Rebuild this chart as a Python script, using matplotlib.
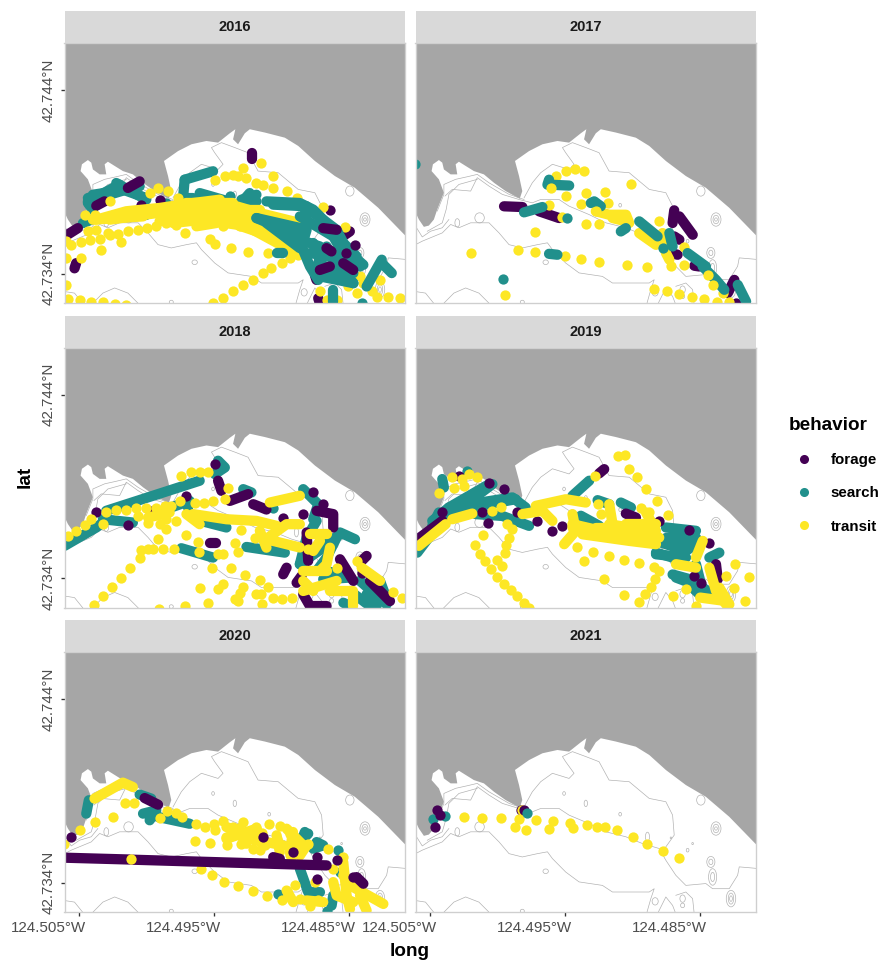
"""Behaviour points by year on a nearshore map, faceted like ggplot."""
import numpy as np
import matplotlib
matplotlib.use("Agg")
import matplotlib.pyplot as plt
from matplotlib.lines import Line2D
from matplotlib.patches import Ellipse, Polygon, Rectangle
from matplotlib.transforms import ScaledTranslation

plt.rcParams['font.family'] = ['Liberation Sans', 'DejaVu Sans']

# All coordinates below are in thousandths of a degree, east of 124.505W and
# north of 42.734N.  A "band" is a run of fixes so dense that the dots merge.
LON_REF = -124.505
LAT_REF = 42.734

YEARS = [2016, 2017, 2018, 2019, 2020, 2021]
LON_TICKS = [-124.505, -124.495, -124.485]
LAT_TICKS = [42.734, 42.744]
BEHAVIORS = ['forage', 'search', 'transit']
COLORS = {'forage': '#440154', 'search': '#21908C', 'transit': '#FDE725'}

# --- shared map ---
COAST = [(-1.2, 3.59), (-0.79, 2.95), (-0.42, 2.55), (-0.05, 2.62), (0.32, 2.95), (0.57, 3.5),
         (1.06, 4.41), (0.69, 5.14), (0.15, 5.59), (0.25, 5.96), (0.69, 6.19), (0.94, 6.05),
         (1.06, 5.68), (1.56, 5.41), (2.05, 5.41), (1.93, 5.96), (2.17, 6.1), (2.67, 5.87),
         (3.28, 5.59), (4.02, 5.41), (4.77, 4.95), (5.63, 4.5), (6.67, 4.08), (6.86, 4.5),
         (6.62, 5.32), (6.32, 6.14), (7.36, 6.68), (8.35, 7.05), (9.46, 7.23), (10.32, 7.14),
         (11.19, 7.65), (11.6, 7.87), (11.43, 7.32), (11.8, 7.05), (12.3, 7.65), (12.67, 7.87),
         (13.78, 7.69), (15.26, 7.41), (16.25, 6.96), (17.48, 6.14), (18.96, 5.32), (20.44, 4.68),
         (22.17, 3.59), (24.4, 1.9), (24.4, -1.9), (-1.2, -1.9)]
CONTOURS = [
    [(-1.04, 1.58), (-0.54, 1.77), (0.94, 2.22), (1.56, 2.68), (2.17, 2.5), (3.04, 2.77), (4.4, 2.77),
     (5.14, 2.22), (5.88, 1.58), (6.86, 1.4), (7.98, 1.58), (8.72, 1.68), (9.09, 1.31), (10.07, 0.58),
     (11.06, 0.04), (12.79, -0.15), (13.53, -0.51), (16.25, -0.51), (16.62, -0.33), (16.37, -0.87),
     (16.05, -1.7)],
    [(1.14, 4.23), (1.68, 4.59), (3.04, 4.5), (3.53, 5.23), (4.4, 4.77), (5.38, 4.32), (6.62, 4.04),
     (7.6, 3.86), (8.22, 4.04), (9.58, 4.04), (10.32, 3.68), (11.8, 3.22), (13.04, 2.77), (14.52, 2.5),
     (15.75, 2.13), (16.99, 1.86), (17.48, 1.22), (18.22, 0.4), (18.96, -0.15), (20.44, -0.05),
     (20.94, -0.33), (22.17, -0.33), (22.79, 0.4), (22.91, 0.86), (24.3, 0.77)],
    [(6.99, 4.13), (7.6, 4.95), (8.22, 5.5), (9.09, 5.96), (10.32, 5.68), (10.69, 5.96), (10.07, 6.59),
     (9.83, 6.87), (10.57, 7.14), (11.56, 6.87), (12.54, 6.59), (13.28, 5.59), (14.77, 5.5), (16.25, 4.59),
     (17.48, 4.41), (17.98, 3.68), (18.1, 2.59), (17.48, 1.95), (17.23, 1.58)],
    [(0.57, 3.41), (1.06, 4.32), (1.06, 4.86), (1.93, 5.14), (2.79, 5.28), (3.53, 5.41), (4.4, 4.95),
     (5.88, 4.32), (6.99, 4.04)],
    [(-0.17, 2.31), (0.94, 2.77), (1.23, 3.5), (1.43, 4.32), (2.17, 4.86), (3.53, 5.14)],
    [(-1.04, 2.59), (-0.54, 2.0), (0.07, 2.31), (0.94, 2.5), (1.43, 2.95)],
    [(-1.09, -0.97), (-0.3, -1.06), (0.4, -1.7)],
    [(0.94, -1.7), (1.8, -1.06), (2.67, -0.78), (3.65, -1.06), (4.52, -1.7)],
    [(16.86, -1.7), (17.48, -0.78), (17.98, -1.24), (18.22, -1.7)],
    [(18.22, -0.69), (18.96, -0.51), (19.46, -0.87), (19.58, -1.7)],
]
# seamount rings: centre x, centre y, width, height
RINGS = [(21.19, 2.95, 0.74, 0.73), (21.19, 2.95, 0.44, 0.46), (21.19, 2.95, 0.2, 0.18),
         (20.07, 4.5, 0.62, 0.55), (9.95, 4.86, 0.2, 0.2), (11.56, 4.32, 0.25, 0.35),
         (14.1, 3.73, 0.2, 0.2), (3.7, 3.04, 0.7, 0.55), (2.05, 2.77, 0.35, 0.45),
         (8.59, 0.62, 0.4, 0.25), (6.86, -1.55, 0.3, 0.2), (20.81, 1.13, 0.6, 0.6),
         (20.81, 1.13, 0.3, 0.3), (20.94, 0.31, 0.6, 0.9), (20.94, 0.31, 0.3, 0.5),
         (16.69, -1.02, 0.45, 0.4), (18.72, -0.87, 0.4, 0.4), (18.72, -1.24, 0.3, 0.25),
         (22.3, -0.87, 0.7, 0.9), (22.3, -0.87, 0.4, 0.6), (22.3, -0.87, 0.2, 0.3),
         (19.46, 2.13, 0.12, 0.12), (19.09, 1.77, 0.2, 0.2), (17.85, 2.44, 0.1, 0.1),
         (16.12, 2.5, 0.3, 0.5)]

# --- 2016 ---
S16_LOW_BANDS = [
    [(0.69, 4.12), (2.54, 4.48), (4.52, 4.76)], [(0.69, 3.94), (3.03, 4.85)], [(2.79, 4.94), (5.01, 4.03)],
    [(1.06, 3.48), (0.69, 3.85)], [(4.52, 3.21), (5.01, 3.21)], [(0.32, 2.75), (0.94, 2.94)],
    [(1.06, 4.3), (4.27, 4.67)], [(3.28, 4.58), (5.01, 4.12)], [(1.06, 4.03), (3.53, 4.58)],
    [(7.85, 5.12), (7.73, 4.12), (8.47, 4.12)], [(7.85, 5.12), (9.95, 5.58)], [(8.96, 4.39), (10.94, 3.97)],
    [(11.92, 3.76), (12.66, 4.39)], [(12.05, 4.03), (13.16, 4.3)], [(11.68, 3.76), (13.16, 3.94)]]
S16_LOW_PTS = [(6.49, 3.85), (11.18, 4.21)]
F16_BANDS = [
    [(-1.04, 2.02), (-0.05, 2.48)], [(-0.3, 0.29), (-0.18, 0.57)], [(12.86, 6.25), (12.86, 6.58)],
    [(17.6, -0.34), (17.48, -0.07)], [(17.73, -1.34), (17.85, -1.62)], [(20.07, 2.3), (19.33, 1.93)],
    [(4.52, 5.03), (3.65, 4.67)], [(1.92, 3.94), (1.31, 3.7)]]
F16_PTS = [(18.59, 3.48), (4.64, 3.76), (5.99, 4.03), (7.11, 3.25)]
T16_BANDS = [
    [(1.31, 2.94), (3.53, 3.4), (5.99, 3.58), (8.47, 3.85), (10.45, 4.03)],
    [(5.99, 2.85), (8.47, 3.3), (10.94, 3.58), (13.41, 2.76), (15.88, 1.48)],
    [(6.99, 2.76), (9.21, 2.94), (11.68, 2.67), (13.9, 2.12), (16.13, 1.12)],
    [(11.68, 3.67), (13.41, 3.3), (16.37, 2.76)], [(8.47, 3.58), (8.96, 2.94)],
    [(6.99, 3.49), (13.41, 3.49)], [(7.48, 2.94), (12.42, 2.94)], [(7.98, 3.85), (11.43, 3.85)],
    [(8.72, 2.58), (10.2, 2.76)], [(12.42, 2.58), (15.63, 1.3)], [(13.9, 2.58), (16.37, 1.3)],
    [(1.06, 2.94), (4.77, 3.12)], [(2.3, 2.94), (6.74, 3.4)]]
T16_PTS = [(-0.92, 1.76), (-0.55, 1.58), (0.2, 1.7), (0.81, 1.81), (1.55, 1.88), (2.3, 2.12), (3.16, 1.7),
           (1.68, 1.27), (0.2, 0.85), (-0.92, 0.85), (-0.92, -0.61), (-0.79, -1.39), (0.07, -1.46), (0.94, -1.52),
           (1.8, -1.57), (2.67, -1.65), (3.53, -1.7), (0.44, 3.21), (1.18, 3.21), (0.69, 2.3), (1.31, 2.39),
           (2.17, 2.21), (2.91, 2.18), (3.65, 2.3), (4.39, 2.39), (5.06, 2.49), (5.75, 2.61), (6.49, 2.76),
           (7.23, 2.67), (7.85, 2.21), (2.3, 3.94), (5.26, 4.4), (5.88, 4.67), (6.62, 4.49), (7.36, 4.12),
           (10.08, 5.12), (10.82, 5.31), (11.43, 5.4), (12.18, 5.76), (11.8, 5.31), (12.42, 5.22), (13.16, 4.94),
           (13.53, 6.03), (14.4, 5.31), (13.66, 4.85), (14.4, 4.67), (15.39, 4.49), (16.13, 4.12), (18.1, 3.63),
           (9.71, 1.88), (10.08, 1.63), (11.31, 1.39), (12.55, 1.16), (14.03, 1.12), (10.69, 2.58), (11.93, 2.58),
           (12.79, 2.58), (9.95, -1.61), (10.69, -1.34), (11.43, -0.97), (12.18, -0.61), (12.92, -0.34),
           (13.66, 0.03), (14.27, 0.3), (15.02, 0.57), (15.63, 0.85), (16.25, 1.03), (19.71, 2.54), (18.97, 1.3),
           (22.3, -0.34), (20.82, -0.15), (21.68, -0.97), (22.05, -1.25), (23.78, -1.34), (22.92, -1.25),
           (17.86, -0.92), (18.35, -1.43), (19.96, -0.7), (20.57, -1.06), (21.07, -0.52), (19.09, -1.43)]
S16_TOP_BANDS = [
    [(13.16, 3.03), (16.37, 2.03)], [(13.16, 3.03), (16.37, 2.49)], [(14.65, 2.58), (16.62, 1.67)],
    [(13.9, 2.76), (16.37, 1.39)], [(15.39, 2.12), (16.62, 1.3)],
    [(13.9, 3.94), (16.37, 3.85), (17.36, 3.49), (18.1, 2.94), (19.09, 2.39), (19.59, 1.67)],
    [(14.4, 3.76), (16.87, 3.67)], [(16.62, 3.67), (18.1, 2.94), (19.83, 1.12)],
    [(16.37, 3.12), (18.84, 2.03), (19.83, 0.76)], [(16.37, 1.85), (17.86, 1.48), (17.86, 0.76)],
    [(17.12, 1.12), (20.08, 0.76), (20.82, 0.39)], [(17.36, 0.39), (20.33, 0.03)], [(17.86, -0.15), (20.33, -0.52)],
    [(19.59, 1.67), (20.57, 0.94)],
    [(16.74, 3.67), (16.87, 2.39), (16.5, 1.48), (17.12, 0.39), (17.73, -0.34)],
    [(17.36, 1.67), (18.1, 0.39), (19.34, 0.39), (20.33, -0.52)], [(18.6, 2.39), (20.08, 1.12), (21.07, 0.48)],
    [(18.35, 1.48), (19.09, 0.39), (19.83, -0.15)], [(21.31, -0.7), (22.43, 0.76)], [(22.43, 0.57), (23.17, 0.03)],
    [(18.84, -0.88), (18.84, -1.52)], [(14.65, 1.12), (15.14, 1.12)], [(17.86, 1.12), (17.61, -0.15)]]
S16_TOP_PTS = [(20.94, -1.61)]
F16_TOP_BANDS = [[(18.34, 1.39), (18.71, 1.21)], [(19.58, 0.57), (20.32, 0.2)], [(17.85, 0.2), (18.59, 0.39)],
                 [(18.1, 2.48), (19.09, 2.39)]]
F16_TOP_PTS = [(19.82, 1.11), (20.44, 1.57)]

# --- 2017 ---
F17_BANDS = [
    [(5.51, 3.67), (6.87, 3.63)], [(8.1, 3.4), (9.58, 3.03)], [(18.48, 3.12), (19.47, 2.12)],
    [(18.1, 3.45), (17.98, 2.76)], [(18.1, 2.03), (18.48, 1.85)], [(17.86, 1.12), (18.35, 1.03)],
    [(19.59, 0.43), (19.96, 0.39)], [(22.55, -0.34), (22.06, -1.06)]]
F17_PTS = [(22.68, -1.61)]
T17_BANDS = [
    [(12.3, 3.4), (13.29, 3.21), (14.53, 3.21), (14.77, 2.76)], [(13.54, 3.03), (14.53, 2.85)],
    [(15.51, 2.21), (16.75, 1.57)], [(17.24, 2.21), (17.49, 1.12), (17.74, 0.76)]]
T17_PTS = [(9.39, 5.31), (10.08, 5.62), (10.75, 5.72), (11.39, 5.58), (14.9, 4.89), (11.56, 4.4), (12.97, 4.45),
           (10.13, 4.21), (11.19, 3.8), (13.22, 3.85), (8.84, 3.76), (9.83, 3.09), (11.56, 2.7), (12.55, 2.72),
           (7.78, 2.25), (3.09, 1.1), (6.52, 1.3), (7.78, 1.17), (10.03, 0.94), (11.22, 0.79), (12.55, 0.63),
           (14.57, 0.45), (16.06, 0.36), (5.58, -1.15), (16.62, -0.83), (17.54, -0.97), (18.48, -1.1), (19.42, -1.25),
           (20.33, -1.37), (21.24, -1.52), (22.18, -1.52), (18.85, 0.48), (18.85, 1.45), (17.86, 0.39), (21.69, -1.06),
           (16.95, 2.85)]
S17_BANDS = [
    [(6.99, 3.34), (8.35, 3.63)], [(8.84, 4.85), (10.33, 4.8)], [(8.84, 5.12), (8.72, 4.85)], [(8.84, 1.08), (9.46, 1.03)],
    [(11.93, 3.85), (12.18, 3.94), (12.67, 3.67)], [(14.15, 2.3), (14.52, 2.48)], [(15.51, 2.85), (16.87, 2.03)],
    [(17.74, 2.21), (17.98, 1.48)], [(19.09, 1.12), (20.45, 0.39)], [(20.2, 0.39), (21.19, -0.34), (21.81, -0.88)],
    [(22.8, -0.61), (23.42, -1.52)]]
S17_PTS = [(10.2, 3.03), (-1.09, 6.0), (5.46, -0.28), (17.24, 1.39)]
T17_TOP_PTS = [(8.97, 4.67), (12.3, 3.4), (20.58, -0.06), (20.95, -0.61)]

# --- 2018 ---
S18_BANDS = [
    [(-1.04, 1.76), (1.31, 2.76), (1.8, 3.03)], [(1.8, 3.21), (4.02, 3.03)], [(2.05, 3.67), (8.96, 5.31)],
    [(6.49, 3.76), (8.22, 4.21), (8.1, 3.85)], [(10.08, 5.67), (10.82, 6.03), (10.32, 6.4)],
    [(8.84, 3.16), (10.94, 2.76)], [(7.6, 1.63), (9.95, 1.12)], [(12.42, 1.7), (15.26, 1.39)],
    [(12.18, 4.85), (12.79, 4.67)], [(16.62, 4.85), (17.73, 4.03), (17.36, 3.21)],
    [(17.61, 3.12), (16.87, 2.21), (16.37, 0.76)], [(19.34, 2.49), (20.45, 2.12)],
    [(19.09, 2.21), (18.35, 1.12), (17.61, 0.39)], [(18.1, -0.06), (20.08, 0.03)],
    [(20.82, -0.15), (22.79, -1.43)], [(21.31, -0.88), (22.05, -1.52)], [(22.3, -0.15), (22.67, -0.88)],
    [(19.59, -1.34), (20.08, -1.52)], [(16.37, 0.76), (18.1, 1.66)], [(18.1, 0.39), (19.83, 0.2)],
    [(17.86, 1.66), (19.34, 2.39)], [(20.08, -0.7), (21.56, -1.52)]]
S18_PTS = [(14.4, 3.85)]
F18_BANDS = [
    [(10.32, 5.31), (10.57, 4.76)], [(11.19, 4.21), (12.55, 4.58)], [(12.92, 4.03), (13.9, 3.74)],
    [(9.71, 1.94), (10.2, 1.94)], [(15.14, 0.21), (15.39, 0.57)], [(16.13, -0.25), (16.5, 0.12)],
    [(17.61, 3.67), (18.84, 3.49), (18.84, 2.76)], [(16.87, 2.49), (16.99, 0.94)], [(21.31, 1.21), (20.82, 0.85)],
    [(19.34, 1.03), (20.33, -0.15)], [(21.56, -0.15), (23.04, -1.25)], [(16.62, -0.88), (17.12, -1.52), (18.35, -1.52)]]
F18_PTS = [(1.31, 3.58), (10.08, 6.22), (7.98, 4.49), (3.65, 2.89), (5.26, 3.67), (15.14, 3.3), (17.36, 4.67),
           (18.1, 4.03), (16.62, 3.49), (20.94, 0.3)]
T18_BANDS = [
    [(8.47, 3.49), (10.94, 3.21), (13.16, 3.12), (14.65, 2.85)], [(14.15, 4.12), (16.37, 4.49)],
    [(14.03, 2.21), (15.39, 2.94), (16.37, 2.94)], [(14.4, 2.03), (16.37, 1.67)], [(17.11, 2.39), (18.35, 2.39)],
    [(17.86, 2.03), (17.36, 1.48)], [(16.62, 0.39), (18.35, 0.39)], [(16.62, -0.7), (19.09, -0.15)],
    [(18.6, -0.7), (20.33, -0.7), (20.33, -1.52)], [(20.94, 0.57), (22.3, -0.15)],
    [(13.41, 2.58), (13.9, 1.66)], [(18.6, 1.66), (18.35, 0.76), (17.86, 0.39)], [(16.62, -0.15), (17.36, -0.7)],
    [(5.14, 3.3), (6.74, 3.58)], [(7.98, 3.49), (8.96, 2.94)]]
T18_PTS = [(7.61, 5.58), (8.35, 5.76), (8.96, 5.76), (9.58, 5.76), (11.06, 4.94), (10.82, 4.3), (9.95, 4.18), (9.26, 4.12),
           (8.59, 4.09), (7.48, 4.18), (6.86, 3.94), (6.37, 3.94), (5.75, 3.85), (4.96, 3.85), (4.22, 3.8), (3.53, 3.74),
           (2.79, 3.7), (2.05, 3.63), (0.89, 3.21), (0.44, 2.89), (-0.17, 2.58), (-0.79, 2.3), (1.8, 2.94), (4.39, 3.4),
           (5.14, 3.03), (6.0, 3.49), (6.49, 3.21), (6.0, 2.94), (6.49, 2.67), (7.23, 3.12), (7.98, 2.34), (5.88, 2.12),
           (8.84, 1.99), (11.56, 1.94), (12.05, 2.61), (13.04, 2.21), (8.91, 1.45), (7.04, 1.58), (6.25, 1.58), (5.51, 1.58),
           (5.14, 1.61), (4.64, 1.52), (4.52, 1.08), (3.83, 0.54), (3.16, 0.03), (2.47, -0.46), (1.8, -0.97), (1.13, -1.46),
           (10.69, 1.34), (10.32, 1.3), (11.8, 1.45), (9.9, 0.54), (11.26, 0.57), (12.3, 0.17), (13.41, -0.1), (8.96, -0.52),
           (10.32, -0.61), (10.69, -0.34), (12.18, -0.46), (11.56, -1.16), (11.93, -0.79), (13.16, -0.88), (13.53, -0.88),
           (14.03, -0.48), (14.4, -1.06), (15.02, -1.16), (15.76, -1.06), (13.58, -1.39), (11.8, -1.25), (7.85, -1.52),
           (9.58, -1.34), (5.95, -1.7), (23.91, -1.06), (23.29, -0.74), (20.57, 0.94), (16.99, 1.57), (19.09, 0.57)]

# --- 2019 ---
S19_BANDS = [
    [(-0.91, 1.39), (0.69, 2.94), (4.65, 5.12)], [(0.2, 3.12), (1.43, 3.85), (4.4, 5.12)],
    [(1.43, 3.85), (6.13, 4.4), (7.11, 3.85)], [(1.68, 3.67), (6.37, 4.3)], [(3.41, 3.49), (5.39, 3.39), (7.36, 2.85)],
    [(0.94, 5.4), (1.06, 4.94)], [(10.57, 4.49), (11.81, 5.31)], [(11.19, 3.4), (12.55, 2.85)],
    [(12.43, 4.25), (13.29, 4.03)], [(14.15, 4.12), (14.9, 3.85)], [(17.49, 2.76), (19.71, 2.58)],
    [(16.75, 2.03), (18.23, 1.67), (19.71, 2.21)], [(16.75, 1.3), (18.97, 1.12)],
    [(18.23, 0.03), (20.21, -0.52), (20.95, -0.88)], [(19.71, 0.76), (20.21, -0.7)], [(0.69, 3.58), (0.2, 2.85)],
    [(17.98, 0.2), (19.71, -0.15)], [(16.75, 1.39), (17.98, 1.12)], [(18.23, 1.12), (19.71, 1.85)],
    [(17.49, 2.21), (18.97, 2.21)], [(21.44, 1.39), (20.7, 1.12)], [(19.46, -0.52), (19.96, -0.88)]]
S19_PTS = [(2.79, 5.85)]
F19_BANDS = [
    [(-1.04, 2.03), (0.94, 3.12)], [(12.92, 5.94), (12.55, 5.71)], [(14.52, 3.52), (15.27, 3.3)],
    [(21.19, 0.76), (21.32, -0.06)]]
F19_PTS = [(0.94, 3.63), (4.35, 3.0), (3.9, 3.63), (9.04, 2.58), (9.83, 2.85), (7.98, 3.12), (6.5, 3.58), (16.99, 3.12),
           (19.22, 2.61), (20.7, 1.94), (19.59, 0.12), (4.4, 5.21), (5.51, 4.85), (2.17, 5.58)]
T19_BANDS = [
    [(-0.79, 1.76), (1.19, 2.94)], [(1.68, 3.21), (3.16, 3.52)], [(7.86, 3.94), (10.08, 4.3), (11.56, 4.12)],
    [(6.87, 3.49), (8.35, 3.67), (9.09, 3.12)], [(10.57, 2.94), (13.78, 2.39), (16.99, 2.21)],
    [(10.57, 3.49), (10.82, 2.58), (9.96, 1.85)], [(13.29, 4.03), (13.54, 2.94)],
    [(11.31, 2.39), (14.77, 2.03), (16.75, 1.85)], [(13.29, 2.94), (16.25, 2.58)], [(16.01, 3.58), (16.75, 2.58)],
    [(20.21, 2.03), (19.71, 1.12)], [(18.23, 0.76), (19.71, 0.57)], [(20.7, 0.57), (21.19, -0.7), (21.94, -1.43)],
    [(20.02, -1.06), (21.94, -1.25)], [(10.57, 2.76), (16.75, 2.21)], [(12.3, 2.76), (15.76, 2.76)],
    [(14.52, 2.94), (16.75, 2.94)], [(21.44, -0.52), (22.18, -1.43)]]
T19_PTS = [(13.91, 6.67), (14.48, 6.73), (14.77, 5.94), (15.32, 5.49), (16.01, 4.85), (16.82, 4.18), (17.61, 3.45),
           (12.23, 5.58), (1.68, 5.49), (2.42, 5.4), (2.92, 5.67), (3.53, 5.49), (1.8, 4.94), (2.55, 5.03), (0.69, 4.63),
           (4.65, 3.67), (5.31, 3.9), (3.34, 1.79), (3.95, 2.36), (3.71, 1.34), (4.1, 0.94), (4.52, 0.52), (4.97, 0.06),
           (5.48, -0.3), (6.0, -0.65), (6.5, -1.0), (6.99, -1.34), (7.36, -1.65), (4.97, 0.99), (5.39, 0.67), (5.58, 1.39),
           (5.68, 1.81), (5.88, 2.18), (5.76, 2.94), (6.13, 2.67), (10.94, 1.72), (12.06, 1.45), (11.44, 0.94), (13.29, 1.21),
           (14.4, 0.99), (15.51, 0.85), (16.62, 0.61), (16.99, 0.39), (16.7, -0.06), (16.38, -0.48), (15.96, -0.88),
           (15.46, -1.28), (14.4, -0.94), (12.94, -0.03), (12.67, 3.49), (12.43, 4.03), (16.25, 3.58), (15.64, 3.85),
           (17.98, -0.97), (22.6, 0.79), (23.61, 0.08), (22.55, -0.52), (18.97, -0.61), (23.37, -1.25), (21.94, 0.12),
           (19.71, -1.52)]
F19_TOP_PTS = [(20.08, -0.25)]

# --- 2020 ---
S20_BANDS = [
    [(0.76, 4.49), (0.57, 3.76)], [(4.52, 4.8), (5.38, 4.58)], [(4.77, 3.76), (5.75, 3.94), (5.26, 3.4)],
    [(5.88, 3.58), (8.22, 3.21)], [(16.74, 2.76), (16.37, 2.03)], [(16.37, 0.76), (16.99, -0.52), (17.86, -0.52)],
    [(17.61, 2.21), (18.1, 2.03), (17.36, 1.85)], [(18.84, -0.7), (18.72, -1.25)], [(16.37, 2.21), (16.99, 2.67)]]
S20_PTS = [(19.22, 1.76), (19.34, 0.57), (14.77, -0.61), (18.35, -1.52)]
T20_BANDS = [
    [(1.18, 4.58), (3.28, 5.45), (4.02, 5.21)], [(10.94, 3.03), (13.16, 2.48)], [(11.93, 2.67), (12.42, 2.12)],
    [(15.39, 2.94), (16.62, 2.03), (15.88, 1.48)], [(18.84, 0.03), (19.09, -0.7), (20.33, -1.06)],
    [(19.58, 1.12), (19.83, -0.7), (20.08, -1.43)], [(20.33, -0.25), (22.55, -1.16)], [(20.82, -0.7), (21.31, -1.52)],
    [(10.94, 2.39), (13.16, 2.94)], [(13.16, 2.94), (13.41, 2.21)], [(13.9, 2.21), (15.14, 2.03)],
    [(14.65, 2.58), (14.89, 1.66)], [(15.86, 2.76), (15.63, 1.66)], [(16.87, 2.03), (16.37, 1.48)],
    [(15.39, -0.43), (15.88, -1.06)], [(16.87, -0.97), (18.1, -1.06)], [(19.58, 0.39), (20.33, -0.15)]]
T20_PTS = [(-1.04, 2.12), (0.07, 2.85), (1.23, 3.3), (2.54, 3.56), (3.41, 4.36), (4.07, 4.36), (8.59, 2.27), (9.71, 2.16),
           (10.99, 2.03), (14.1, 3.21), (14.89, 3.07), (9.04, 0.76), (9.9, 0.39), (10.74, 0.03), (11.83, -0.21), (12.92, -0.46),
           (13.95, -0.74), (15.02, -0.97), (6.57, 3.9), (7.24, 3.81), (7.68, 3.58), (6.0, 3.52), (8.72, 3.21), (9.38, 3.03),
           (10.08, 2.89), (10.0, 3.21), (10.69, 3.34), (10.94, 2.48), (11.43, 3.03), (12.18, 3.3), (12.05, 2.12), (12.92, 1.85),
           (13.16, 3.03), (15.63, 2.67), (14.65, 2.39), (13.78, 2.03), (13.41, 1.76), (15.63, 1.48), (16.0, -0.15), (15.39, -0.43),
           (17.48, 0.03), (16.37, -0.88), (17.12, -1.25), (17.73, -0.97), (19.58, 1.39), (18.47, 1.85), (16.99, 2.12), (18.84, 0.76),
           (11.9, 3.0), (12.7, 2.7), (13.0, 2.3), (11.2, 2.6), (13.6, 2.7)]
F20_BANDS = [
    [(-1.04, 1.36), (3.78, 1.26)], [(4.02, 1.25), (18.35, 0.94)], [(4.89, 4.61), (5.88, 4.25)], [(14.4, 1.39), (14.89, 1.3)],
    [(21.07, -0.06), (20.57, 0.3)]]
F20_PTS = [(-0.55, 2.47), (17.61, 1.39), (15.88, 1.67), (13.66, 2.49), (19.09, 1.21), (17.61, 0.21), (20.27, 0.3)]
T20_TOP_PTS = [(3.9, 1.27)]

# --- 2021 ---
S21_PTS = [(1.14, 3.61), (0.27, 3.45)]
F21_PTS = [(0.57, 3.94), (0.74, 3.7), (0.4, 3.03), (6.74, 3.98)]
T21_PTS = [(2.55, 3.56), (3.9, 3.54), (5.29, 3.5), (6.62, 3.45), (6.32, 3.01), (7.11, 2.85), (7.86, 3.43), (9.12, 3.34),
           (8.87, 2.9), (10.4, 3.23), (10.62, 2.98), (11.66, 3.12), (12.38, 3.01), (12.97, 3.01), (13.88, 2.87), (15.02, 2.49),
           (16.11, 2.1), (17.29, 1.72), (18.43, 1.34), (6.82, 3.98)]
F21_TOP_PTS = [(6.99, 3.94)]
S21_TOP_PTS = [(7.24, 3.8)]

# draw order matters, ggplot draws the fixes in time order so colours interleave
LAYERS = {
    2016: [('search', S16_LOW_BANDS, S16_LOW_PTS), ('forage', F16_BANDS, F16_PTS), ('transit', T16_BANDS, T16_PTS),
           ('search', S16_TOP_BANDS, S16_TOP_PTS), ('forage', F16_TOP_BANDS, F16_TOP_PTS)],
    2017: [('forage', F17_BANDS, F17_PTS), ('transit', T17_BANDS, T17_PTS), ('search', S17_BANDS, S17_PTS),
           ('transit', [], T17_TOP_PTS)],
    2018: [('search', S18_BANDS, S18_PTS), ('forage', F18_BANDS, F18_PTS), ('transit', T18_BANDS, T18_PTS)],
    2019: [('search', S19_BANDS, S19_PTS), ('forage', F19_BANDS, F19_PTS), ('transit', T19_BANDS, T19_PTS),
           ('forage', [], F19_TOP_PTS)],
    2020: [('search', S20_BANDS, S20_PTS), ('transit', T20_BANDS, T20_PTS), ('forage', F20_BANDS, F20_PTS),
           ('transit', [], T20_TOP_PTS)],
    2021: [('search', [], S21_PTS), ('forage', [], F21_PTS), ('transit', [], T21_PTS), ('forage', [], F21_TOP_PTS),
           ('search', [], S21_TOP_PTS)],
}


def to_lonlat(pts):
    arr = np.array(pts)
    return LON_REF + arr[:, 0] / 1000, LAT_REF + arr[:, 1] / 1000


def draw_map(ax):
    lon, lat = to_lonlat(COAST)
    ax.add_patch(Polygon(np.column_stack([lon, lat]), fc='white', ec='none', zorder=1))
    for line in CONTOURS:
        lon, lat = to_lonlat(line)
        ax.plot(lon, lat, color='#B0B0B0', lw=0.5, zorder=2)
    lon, lat = to_lonlat([r[:2] for r in RINGS])
    for x, y, r in zip(lon, lat, RINGS):
        ax.add_patch(Ellipse((x, y), r[2] / 1000, r[3] / 1000, fc='none', ec='#B0B0B0', lw=0.5, zorder=2))


def draw_layer(ax, behavior, bands, pts, z):
    color = COLORS[behavior]
    for band in bands:
        lon, lat = to_lonlat(band)
        ax.plot(lon, lat, color=color, lw=DOT_PT, solid_capstyle='round', solid_joinstyle='round', zorder=z)
    if len(pts):
        lon, lat = to_lonlat(pts)
        ax.plot(lon, lat, 'o', color=color, ms=DOT_PT, mew=0, zorder=z)


W, H = 886, 964
DOT_PT = 7.7
COL_X = [64.5, 415.5]
ROW_Y = [43, 347.5, 652]
PANEL_W, PANEL_H = 340.5, 260
STRIP_H = 32
XLIM = (LON_REF - 1.04 / 1000, LON_REF + 24.15 / 1000)
YLIM = (LAT_REF - 1.6 / 1000, LAT_REF + 12.57 / 1000)

fig = plt.figure(figsize=(W / 96, H / 96), dpi=96)
label_shift = ScaledTranslation(7 / 96, 0, fig.dpi_scale_trans)

for i, year in enumerate(YEARS):
    col, row = i % 2, i // 2
    left, top = COL_X[col], ROW_Y[row]
    ax = fig.add_axes([left / W, 1 - (top + PANEL_H) / H, PANEL_W / W, PANEL_H / H])
    ax.set_facecolor('#A6A6A6')
    ax.set_xlim(*XLIM)
    ax.set_ylim(*YLIM)
    draw_map(ax)
    for z, (behavior, bands, pts) in enumerate(LAYERS[year]):
        draw_layer(ax, behavior, bands, pts, 3 + z)

    for spine in ax.spines.values():
        spine.set_color('#CFCFCF')
        spine.set_linewidth(1.0)
        spine.set_zorder(20)

    ax.set_xticks(LON_TICKS if row == 2 else [])
    ax.set_yticks(LAT_TICKS if col == 0 else [])
    if row == 2:
        ax.set_xticklabels([f'{abs(v):.3f}°W' for v in LON_TICKS])
    if col == 0:
        ax.set_yticklabels([f'{v:.3f}°N' for v in LAT_TICKS], rotation=90, va='center')
    ax.tick_params(length=3, width=1, color='#333333', labelcolor='#4D4D4D', labelsize=11.3, pad=4)
    # the reference's long labels end just past their tick rather than centring on it
    for label in ax.get_xticklabels():
        label.set_ha('right')
        label.set_transform(label.get_transform() + label_shift)

    fig.add_artist(Rectangle((left / W, 1 - top / H), PANEL_W / W, STRIP_H / H,
                             transform=fig.transFigure, fc='#D9D9D9', ec='none'))
    fig.text((left + PANEL_W / 2) / W, 1 - (top - STRIP_H / 2) / H, str(year), ha='center', va='center',
             fontsize=11, fontweight='bold', color='#1A1A1A')

fig.text(410 / W, 1 - 951 / H, 'long', ha='center', va='center', fontsize=14.2, fontweight='bold')
fig.text(25 / W, 1 - 477 / H, 'lat', ha='center', va='center', rotation=90, fontsize=14.2, fontweight='bold')

handles = [Line2D([], [], ls='', marker='o', ms=6.8, mew=0, color=COLORS[b], label=b) for b in BEHAVIORS]
leg = fig.legend(handles=handles, title='behavior', loc='upper left', bbox_to_anchor=(788.5 / W, 1 - 417 / H),
                 frameon=False, borderpad=0, borderaxespad=0, handletextpad=0.8, labelspacing=1.27,
                 prop={'size': 11.3, 'weight': 'bold'}, title_fontproperties={'size': 14.2, 'weight': 'bold'},
                 alignment='left')
leg._legend_box.sep = 14.5

fig.savefig('out.png', dpi=96)
